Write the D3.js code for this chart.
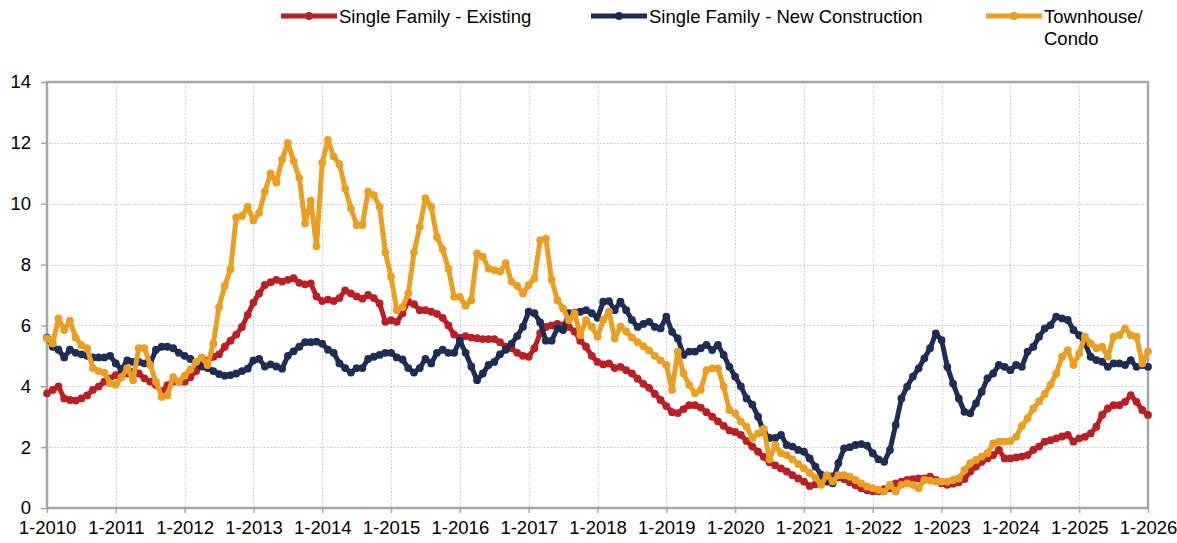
<!DOCTYPE html>
<html>
<head>
<meta charset="utf-8">
<script src="https://cdn.jsdelivr.net/npm/d3@7"></script>
<style>
  html, body { margin: 0; padding: 0; background: #fff; }
  svg { display: block; }
  text { font-family: "Liberation Sans", Arial, Helvetica, sans-serif; fill: #000; }
</style>
</head>
<body>
<svg id="chart" width="1177" height="543"></svg>
<script>
// Monthly observations, January 2010 through January 2026 (193 months)
const tickLabels = ["1-2010","1-2011","1-2012","1-2013","1-2014","1-2015","1-2016","1-2017","1-2018","1-2019","1-2020","1-2021","1-2022","1-2023","1-2024","1-2025","1-2026"];
const yTicks = [0, 2, 4, 6, 8, 10, 12, 14];
const seriesNames = ["Single Family - Existing", "Single Family - New Construction", "Townhouse/\nCondo"];

const existing = [
  3.77,3.88,4.0,3.6,3.55,3.53,3.6,3.7,3.88,3.99,4.15,4.26,
  4.37,4.45,4.42,4.48,4.42,4.26,4.15,4.04,3.82,4.04,4.15,4.15,
  4.15,4.3,4.5,4.75,4.85,4.97,5.05,5.3,5.5,5.7,5.95,6.35,
  6.75,7.05,7.33,7.42,7.5,7.44,7.5,7.55,7.4,7.35,7.38,6.95,
  6.8,6.85,6.8,6.9,7.15,7.05,6.95,6.88,7.0,6.9,6.72,6.12,
  6.17,6.12,6.4,6.78,6.7,6.5,6.5,6.45,6.38,6.25,6.0,5.7,
  5.6,5.65,5.6,5.58,5.55,5.55,5.55,5.45,5.3,5.25,5.1,5.0,
  4.97,5.25,5.75,5.95,6.0,6.05,6.0,5.95,5.8,5.5,5.3,5.0,
  4.8,4.72,4.75,4.6,4.64,4.53,4.42,4.25,4.08,3.95,3.75,3.55,
  3.35,3.15,3.12,3.25,3.38,3.38,3.3,3.15,3.0,2.85,2.7,2.55,
  2.5,2.4,2.2,2.02,1.85,1.68,1.5,1.4,1.3,1.2,1.08,0.97,
  0.87,0.72,0.78,0.92,1.05,1.05,1.0,0.95,0.85,0.75,0.65,0.58,
  0.55,0.55,0.62,0.65,0.81,0.87,0.92,0.95,0.97,0.97,1.03,0.92,
  0.81,0.76,0.8,0.85,0.95,1.2,1.36,1.52,1.63,1.74,1.91,1.63,
  1.63,1.66,1.69,1.74,1.91,2.02,2.18,2.23,2.29,2.35,2.4,2.18,
  2.29,2.34,2.45,2.67,3.06,3.27,3.38,3.38,3.49,3.71,3.49,3.22,
  3.06
];

const newConstruction = [
  5.6,5.3,5.2,4.95,5.2,5.1,5.05,5.0,4.95,4.95,4.95,5.0,
  4.75,4.55,4.85,4.8,4.8,4.75,4.75,5.2,5.3,5.3,5.25,5.1,
  5.0,4.9,4.75,4.65,4.6,4.5,4.4,4.35,4.37,4.42,4.5,4.58,
  4.85,4.9,4.65,4.72,4.65,4.58,5.0,5.15,5.3,5.45,5.45,5.47,
  5.4,5.2,5.1,4.75,4.6,4.45,4.6,4.6,4.9,4.97,5.03,5.1,
  5.1,4.95,4.88,4.6,4.45,4.6,4.9,4.75,5.1,5.2,5.1,5.1,
  5.5,5.1,4.65,4.2,4.42,4.7,4.8,5.05,5.2,5.4,5.65,5.96,
  6.45,6.4,6.1,5.5,5.5,5.9,5.85,6.4,6.42,6.45,6.5,6.4,
  6.25,6.78,6.8,6.5,6.78,6.5,6.18,5.95,6.05,6.12,5.95,5.9,
  6.29,5.79,5.57,5.03,5.14,5.14,5.25,5.36,5.19,5.36,5.03,4.64,
  4.32,4.0,3.6,3.4,3.0,2.5,2.3,2.3,2.4,2.07,2.02,1.91,
  1.85,1.63,1.36,1.1,0.87,0.81,1.47,1.96,2.0,2.07,2.1,2.05,
  1.8,1.6,1.52,1.91,2.73,3.6,3.99,4.32,4.59,4.92,5.25,5.74,
  5.52,4.64,4.09,3.6,3.16,3.11,3.44,3.82,4.26,4.42,4.7,4.64,
  4.53,4.7,4.64,5.14,5.3,5.63,5.9,6.01,6.29,6.23,6.18,5.85,
  5.68,5.41,4.97,4.86,4.81,4.64,4.75,4.75,4.7,4.86,4.64,4.7,
  4.64
];

const townhouseCondo = [
  5.57,5.41,6.23,5.85,6.16,5.6,5.35,5.25,4.6,4.5,4.45,4.1,
  4.05,4.3,4.6,4.2,5.25,5.25,4.7,4.15,3.65,3.7,4.3,4.15,
  4.35,4.55,4.8,4.95,4.7,5.4,6.6,7.3,7.85,9.55,9.6,9.9,
  9.45,9.7,10.4,11.0,10.7,11.45,12.0,11.4,10.85,9.35,10.1,8.6,
  11.35,12.1,11.55,11.3,10.5,9.85,9.3,9.3,10.4,10.28,9.9,8.4,
  7.6,6.5,6.6,7.05,8.4,9.24,10.18,9.9,8.9,8.5,7.87,6.94,
  6.94,6.65,6.83,8.37,8.26,7.87,7.82,7.77,8.05,7.44,7.3,7.05,
  7.33,7.55,8.8,8.85,7.5,6.83,6.56,6.17,6.4,5.68,6.17,5.96,
  5.63,6.17,6.45,5.57,5.96,5.8,5.6,5.45,5.32,5.18,5.0,4.85,
  4.7,3.88,5.14,4.42,4.04,3.77,3.88,4.53,4.59,4.59,3.99,3.22,
  3.11,2.84,2.67,2.3,2.45,2.6,1.6,2.07,1.8,1.74,1.6,1.45,
  1.3,1.15,1.0,0.76,1.08,0.87,1.08,1.08,1.03,0.92,0.81,0.7,
  0.65,0.6,0.54,0.76,0.54,0.76,0.81,0.76,0.65,0.92,0.9,0.87,
  0.87,0.87,0.92,0.97,1.25,1.47,1.58,1.69,1.8,2.12,2.18,2.18,
  2.2,2.34,2.7,2.95,3.27,3.5,3.75,4.05,4.42,4.97,5.19,4.7,
  5.08,5.63,5.41,5.25,5.3,4.97,5.63,5.68,5.9,5.68,5.63,4.75,
  5.14
];

const colors = ["#B82025", "#1F2C55", "#EA9F22"];

(function () {
  const svg = d3.select("#chart");
  const pLeft = 47, pRight = 1148, pTop = 82, pBottom = 508;
  const nMonths = existing.length - 1;

  const x = d3.scaleLinear().domain([0, nMonths]).range([pLeft, pRight]);
  const y = d3.scaleLinear().domain([0, 14]).range([pBottom, pTop]);

  const tickIdx = tickLabels.map((d, i) => i * 12);

  // gridlines
  const grid = svg.append("g").attr("stroke", "#C4C4C4").attr("stroke-width", 1).attr("stroke-dasharray", "1.5,2");
  grid.selectAll("line.h").data(yTicks.filter(v => v > 0 && v < 14)).join("line")
    .attr("x1", pLeft).attr("x2", pRight).attr("y1", d => Math.round(y(d)) + 0.5).attr("y2", d => Math.round(y(d)) + 0.5);
  grid.selectAll("line.v").data(tickIdx.slice(1, -1)).join("line")
    .attr("y1", pTop).attr("y2", pBottom).attr("x1", d => Math.round(x(d)) + 0.5).attr("x2", d => Math.round(x(d)) + 0.5);

  // y axis
  const yAxis = d3.axisLeft(y).tickValues(yTicks).tickSize(6).tickPadding(10).tickFormat(d3.format("d"));
  const gy = svg.append("g").attr("transform", `translate(${pLeft},0)`).call(yAxis);
  gy.select(".domain").remove();
  gy.selectAll(".tick line").attr("stroke", "#A6A6A6").attr("stroke-width", 1.5);
  gy.selectAll(".tick text").style("font-size", "18.5px").style("font-family", "'Liberation Sans', Arial, sans-serif").attr("fill", "#000");

  // x axis
  const xAxis = d3.axisBottom(x).tickValues(tickIdx).tickSize(5).tickPadding(8).tickFormat((d, i) => tickLabels[i]);
  const gx = svg.append("g").attr("transform", `translate(0,${pBottom})`).call(xAxis);
  gx.select(".domain").remove();
  gx.selectAll(".tick line").attr("stroke", "#A6A6A6").attr("stroke-width", 1.5);
  gx.selectAll(".tick text").style("font-size", "18.5px").style("font-family", "'Liberation Sans', Arial, sans-serif").attr("fill", "#000");

  // frame
  svg.append("rect").attr("x", pLeft).attr("y", pTop).attr("width", pRight - pLeft).attr("height", pBottom - pTop)
    .attr("fill", "none").attr("stroke", "#A6A6A6").attr("stroke-width", 2.5);

  // series
  const series = [existing, newConstruction, townhouseCondo];
  const line = d3.line().x((d, i) => x(i)).y(d => y(d));
  series.forEach((vals, s) => {
    const g = svg.append("g");
    g.append("path").datum(vals).attr("d", line).attr("fill", "none")
      .attr("stroke", colors[s]).attr("stroke-width", 5).attr("stroke-linejoin", "round");
    g.selectAll("circle").data(vals).join("circle")
      .attr("cx", (d, i) => x(i)).attr("cy", d => y(d)).attr("r", 3.9).attr("fill", colors[s]);
  });

  // legend
  const legendX = [281, 591, 986];
  seriesNames.forEach((name, s) => {
    const g = svg.append("g").attr("transform", `translate(${legendX[s]},16)`);
    g.append("line").attr("x1", 0).attr("x2", 56).attr("y1", 0).attr("y2", 0)
      .attr("stroke", colors[s]).attr("stroke-width", 5);
    g.append("circle").attr("cx", 28).attr("cy", 0).attr("r", 4).attr("fill", colors[s]);
    const t = g.append("text").attr("x", 58).attr("y", 6.5).style("font-size", "18.5px");
    name.split("\n").forEach((part, k) => {
      t.append("tspan").attr("x", 58).attr("dy", k === 0 ? 0 : 22).text(part);
    });
  });
})();
</script>
</body>
</html>
